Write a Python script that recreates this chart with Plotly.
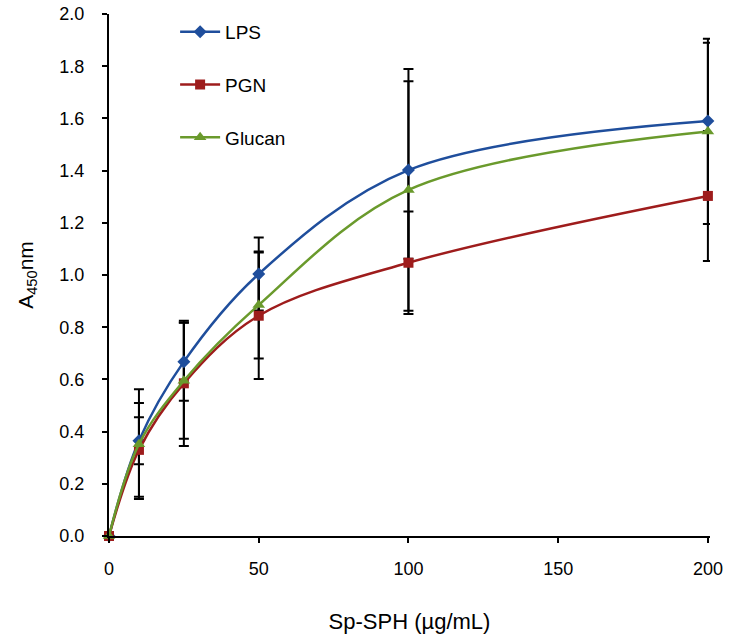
import plotly.graph_objects as go

x_vals = [0, 10, 25, 50, 100, 200]
lps = [0, 0.365, 0.668, 1.004, 1.402, 1.59]
lps_err = [0, 0.09, 0.15, 0.14, 0.34, 0.30]
pgn = [0, 0.33, 0.585, 0.844, 1.047, 1.303]
pgn_err = [0, 0.18, 0.24, 0.242, 0.196, 0.249]
glucan = [0, 0.352, 0.595, 0.885, 1.326, 1.55]
glucan_err = [0, 0.21, 0.222, 0.205, 0.463, 0.355]

x_ticks = [0, 50, 100, 150, 200]
y_ticks = [0.0, 0.2, 0.4, 0.6, 0.8, 1.0, 1.2, 1.4, 1.6, 1.8, 2.0]

series = [
    ("LPS", lps, lps_err, "#1F4E9C", "diamond", 10),
    ("PGN", pgn, pgn_err, "#9E1C1C", "square", 10),
    ("Glucan", glucan, glucan_err, "#6A9A2C", "triangle-up", 11),
]

FONT = "Liberation Sans, Arial, sans-serif"

fig = go.Figure()

# error bars (drawn first, markers on top)
for name, vals, errs, color, sym, size in series:
    fig.add_trace(go.Scatter(
        x=x_vals, y=vals, mode="markers",
        marker=dict(size=1, opacity=0),
        error_y=dict(type="data", array=errs, visible=True,
                     color="black", thickness=2, width=5),
        showlegend=False, hoverinfo="skip", cliponaxis=False,
    ))

for i, (name, vals, errs, color, sym, size) in enumerate(series):
    fig.add_trace(go.Scatter(
        x=x_vals, y=vals, mode="lines+markers", name=name,
        line=dict(color=color, width=2.5, shape="spline", smoothing=1.0),
        marker=dict(symbol=sym, size=size, color=color),
        legendgroup=f"g{i}", cliponaxis=False,
    ))

fig.update_layout(
    width=730, height=636,
    margin=dict(l=109, r=20, t=14, b=100, autoexpand=False),
    paper_bgcolor="white", plot_bgcolor="white",
    font=dict(family=FONT, color="black", size=18),
    legend=dict(
        x=0.11, y=1.002, xanchor="left", yanchor="top",
        font=dict(family=FONT, size=19, color="black"),
        tracegroupgap=25, bgcolor="rgba(0,0,0,0)",
        itemwidth=40,
    ),
    xaxis=dict(
        range=[0, 200.7], tickvals=x_ticks, ticktext=[str(t) for t in x_ticks],
        showline=True, linecolor="black", linewidth=2,
        ticks="outside", ticklen=5, tickwidth=2, tickcolor="black",
        showgrid=False, zeroline=False, automargin=False,
        tickfont=dict(family=FONT, size=18),
        ticklabelstandoff=10,
        title=dict(text="Sp-SPH (µg/mL)", font=dict(family=FONT, size=22), standoff=36),
    ),
    yaxis=dict(
        range=[0, 2.0], tickvals=y_ticks, ticktext=[f"{t:.1f}" for t in y_ticks],
        showline=True, linecolor="black", linewidth=2,
        ticks="outside", ticklen=5, tickwidth=2, tickcolor="black",
        showgrid=False, zeroline=False, automargin=False,
        tickfont=dict(family=FONT, size=18),
        ticklabelstandoff=14,
        title=dict(text="A<sub>450</sub>nm", font=dict(family=FONT, size=21), standoff=20),
    ),
)

fig.write_html("out.html", config={"displayModeBar": False},
               post_script="document.body.style.margin='0';")
